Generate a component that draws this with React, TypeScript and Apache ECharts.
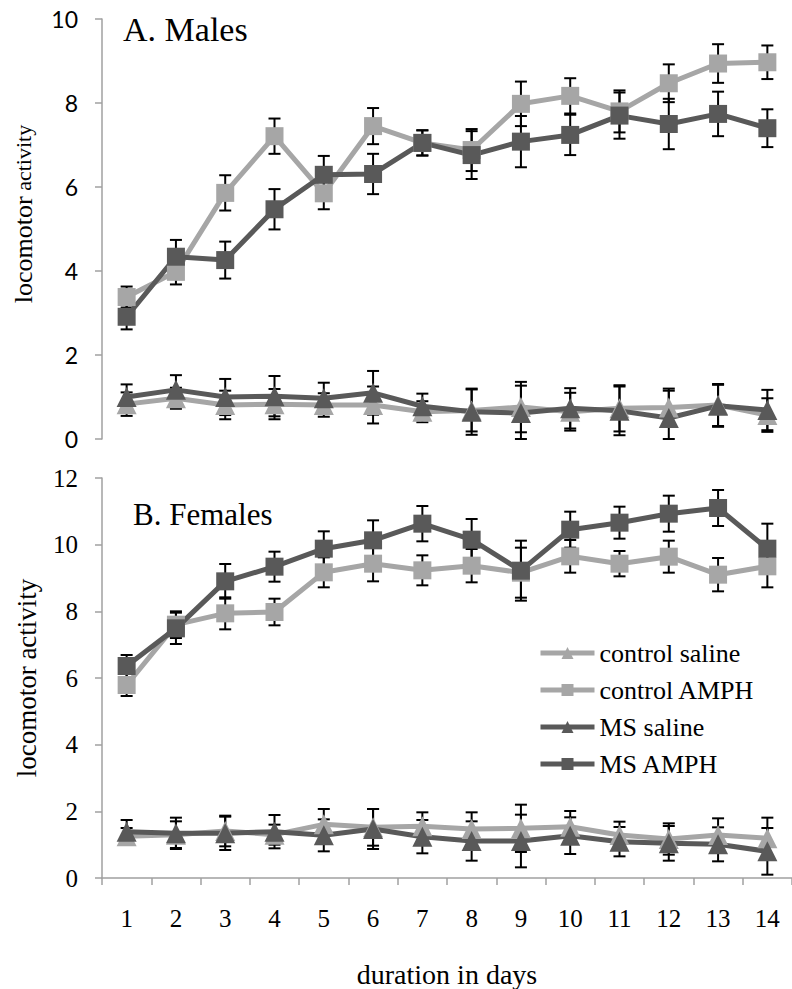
import React, { useEffect, useRef } from "react";
import * as echarts from "echarts";

const days = ["1", "2", "3", "4", "5", "6", "7", "8", "9", "10", "11", "12", "13", "14"];
const seriesNames = ["control saline", "control AMPH", "MS saline", "MS AMPH"];
const maleTicks = [0, 2, 4, 6, 8, 10];
const femaleTicks = [0, 2, 4, 6, 8, 10, 12];

// A. Males
const maleCtrlSaline = [0.83, 0.97, 0.81, 0.83, 0.81, 0.81, 0.65, 0.68, 0.76, 0.65, 0.73, 0.75, 0.81, 0.57];
const maleCtrlSalineErr = [0.28, 0.25, 0.34, 0.36, 0.28, 0.44, 0.25, 0.5, 0.6, 0.45, 0.55, 0.45, 0.5, 0.4];
const maleCtrlAmph = [3.38, 3.98, 5.86, 7.21, 5.85, 7.45, 7.05, 6.88, 7.98, 8.17, 7.8, 8.47, 8.94, 8.97];
const maleCtrlAmphErr = [0.25, 0.3, 0.42, 0.42, 0.38, 0.43, 0.3, 0.5, 0.53, 0.42, 0.5, 0.45, 0.46, 0.4];
const maleMsSaline = [1.0, 1.17, 1.0, 1.02, 0.97, 1.1, 0.78, 0.65, 0.62, 0.73, 0.67, 0.5, 0.79, 0.69];
const maleMsSalineErr = [0.3, 0.35, 0.43, 0.48, 0.37, 0.52, 0.3, 0.55, 0.65, 0.48, 0.58, 0.65, 0.5, 0.48];
const maleMsAmph = [2.91, 4.34, 4.26, 5.47, 6.29, 6.31, 7.05, 6.76, 7.08, 7.24, 7.7, 7.5, 7.74, 7.4];
const maleMsAmphErr = [0.3, 0.4, 0.44, 0.48, 0.45, 0.48, 0.3, 0.57, 0.61, 0.48, 0.55, 0.6, 0.53, 0.45];

// B. Females
const femCtrlSaline = [1.25, 1.3, 1.41, 1.3, 1.61, 1.52, 1.55, 1.47, 1.49, 1.54, 1.29, 1.17, 1.29, 1.19];
const femCtrlSalineErr = [0.25, 0.4, 0.46, 0.3, 0.46, 0.55, 0.42, 0.5, 0.71, 0.47, 0.4, 0.47, 0.5, 0.62];
const femCtrlAmph = [5.79, 7.6, 7.94, 7.98, 9.17, 9.43, 9.23, 9.37, 9.16, 9.65, 9.43, 9.64, 9.1, 9.35];
const femCtrlAmphErr = [0.33, 0.4, 0.48, 0.4, 0.45, 0.53, 0.45, 0.5, 0.75, 0.49, 0.38, 0.48, 0.5, 0.63];
const femMsSaline = [1.39, 1.34, 1.34, 1.39, 1.28, 1.47, 1.24, 1.11, 1.11, 1.27, 1.09, 1.04, 1.01, 0.8];
const femMsSalineErr = [0.35, 0.47, 0.5, 0.5, 0.48, 0.6, 0.5, 0.59, 0.79, 0.55, 0.44, 0.52, 0.51, 0.7];
const femMsAmph = [6.36, 7.49, 8.9, 9.34, 9.88, 10.13, 10.63, 10.15, 9.22, 10.45, 10.66, 10.93, 11.1, 9.88];
const femMsAmphErr = [0.33, 0.47, 0.52, 0.45, 0.52, 0.6, 0.53, 0.62, 0.9, 0.54, 0.48, 0.54, 0.54, 0.75];

const LIGHT = "#A6A6A6";
const DARK = "#595959";
const AXIS = "#A0A0A0";
const SERIF = "'Liberation Serif', 'Times New Roman', serif";
const SANS = "Lato, 'Open Sans', sans-serif";

function lineSeries(name: string, values: number[], color: string, symbol: string, gi: number) {
  return {
    type: "line",
    name,
    xAxisIndex: gi,
    yAxisIndex: gi,
    data: values,
    symbol,
    symbolSize: symbol === "triangle" ? 20 : 18,
    showSymbol: true,
    lineStyle: { color, width: 5 },
    itemStyle: { color },
    z: 3,
  };
}

function errSeries(values: number[], errs: number[], gi: number) {
  return {
    type: "custom",
    xAxisIndex: gi,
    yAxisIndex: gi,
    z: 2,
    silent: true,
    data: values.map((v, i) => [i, v, errs[i]]),
    renderItem: (params: any, api: any) => {
      const x = api.value(0);
      const v = api.value(1);
      const e = api.value(2);
      const hi = api.coord([x, v + e]);
      const lo = api.coord([x, Math.max(0, v - e)]);
      const w = 6;
      const st = { stroke: "#000", lineWidth: 2 };
      return {
        type: "group",
        children: [
          { type: "line", shape: { x1: hi[0], y1: hi[1], x2: lo[0], y2: lo[1] }, style: st },
          { type: "line", shape: { x1: hi[0] - w, y1: hi[1], x2: hi[0] + w, y2: hi[1] }, style: st },
          { type: "line", shape: { x1: lo[0] - w, y1: lo[1], x2: lo[0] + w, y2: lo[1] }, style: st },
        ],
      };
    },
  };
}

export default function App() {
  const ref = useRef<HTMLDivElement>(null);
  useEffect(() => {
    if (!ref.current) return;
    const chart = echarts.init(ref.current, undefined, { renderer: "svg" });
    const option: any = {
      animation: false,
      backgroundColor: "#fff",
      grid: [
        { left: 102, right: -7, top: 19, height: 420 },
        { left: 102, right: -7, top: 478, height: 402 },
      ],
      xAxis: [
        {
          type: "category",
          gridIndex: 0,
          data: days,
          axisLine: { show: false },
          axisTick: { show: false },
          axisLabel: { show: false },
        },
        {
          type: "category",
          gridIndex: 1,
          data: days,
          axisLine: { show: true, lineStyle: { color: AXIS, width: 1.5 } },
          axisTick: { show: true, length: 7, interval: 0, lineStyle: { color: AXIS, width: 1.5 } },
          axisLabel: { show: true, interval: 0, fontFamily: SERIF, fontSize: 25, color: "#000", margin: 28 },
          name: "duration in days",
          nameLocation: "middle",
          nameGap: 82,
          nameTextStyle: { fontFamily: SERIF, fontSize: 28, color: "#000" },
        },
      ],
      yAxis: [
        {
          type: "value",
          gridIndex: 0,
          min: maleTicks[0],
          max: maleTicks[maleTicks.length - 1],
          interval: 2,
          splitLine: { show: false },
          axisLine: { show: true, lineStyle: { color: AXIS, width: 1.5 } },
          axisTick: { show: true, length: 7, lineStyle: { color: AXIS, width: 1.5 } },
          axisLabel: { fontFamily: SANS, fontSize: 23, color: "#000", margin: 24 },
          name: "{a|locomotor}{b| activity}",
          nameLocation: "middle",
          nameGap: 66,
          nameTextStyle: {
            fontFamily: SERIF,
            color: "#000",
            padding: [0, 0, 0, 30],
            rich: {
              a: { fontFamily: SERIF, fontSize: 26, color: "#000" },
              b: { fontFamily: SERIF, fontSize: 22, color: "#000" },
            },
          },
        },
        {
          type: "value",
          gridIndex: 1,
          min: femaleTicks[0],
          max: femaleTicks[femaleTicks.length - 1],
          interval: 2,
          splitLine: { show: false },
          axisLine: { show: true, lineStyle: { color: AXIS, width: 1.5 } },
          axisTick: { show: true, length: 7, lineStyle: { color: AXIS, width: 1.5 } },
          axisLabel: { fontFamily: SERIF, fontSize: 25, color: "#000", margin: 24 },
          name: "locomotor activity",
          nameLocation: "middle",
          nameGap: 62,
          nameTextStyle: { fontFamily: SERIF, fontSize: 27, color: "#000" },
        },
      ],
      legend: {
        orient: "vertical",
        left: 533,
        top: 635,
        itemWidth: 54,
        itemHeight: 15,
        itemGap: 11,
        data: seriesNames,
        lineStyle: { width: 5 },
        textStyle: { fontFamily: SERIF, fontSize: 26, color: "#000", lineHeight: 26 },
      },
      graphic: [
        { type: "text", left: 123, top: 12, style: { text: "A. Males", fontFamily: SERIF, fontSize: 34, fill: "#000" } },
        { type: "text", left: 133, top: 499, style: { text: "B. Females", fontFamily: SERIF, fontSize: 31, fill: "#000" } },
      ],
      series: [
        errSeries(maleCtrlSaline, maleCtrlSalineErr, 0),
        errSeries(maleCtrlAmph, maleCtrlAmphErr, 0),
        errSeries(maleMsSaline, maleMsSalineErr, 0),
        errSeries(maleMsAmph, maleMsAmphErr, 0),
        errSeries(femCtrlSaline, femCtrlSalineErr, 1),
        errSeries(femCtrlAmph, femCtrlAmphErr, 1),
        errSeries(femMsSaline, femMsSalineErr, 1),
        errSeries(femMsAmph, femMsAmphErr, 1),
        lineSeries(seriesNames[0], maleCtrlSaline, LIGHT, "triangle", 0),
        lineSeries(seriesNames[1], maleCtrlAmph, LIGHT, "rect", 0),
        lineSeries(seriesNames[2], maleMsSaline, DARK, "triangle", 0),
        lineSeries(seriesNames[3], maleMsAmph, DARK, "rect", 0),
        lineSeries(seriesNames[0], femCtrlSaline, LIGHT, "triangle", 1),
        lineSeries(seriesNames[1], femCtrlAmph, LIGHT, "rect", 1),
        lineSeries(seriesNames[2], femMsSaline, DARK, "triangle", 1),
        lineSeries(seriesNames[3], femMsAmph, DARK, "rect", 1),
      ],
    };
    chart.setOption(option);
    return () => chart.dispose();
  }, []);
  return (
    <div
      ref={ref}
      style={{ position: "fixed", left: 0, top: 0, width: 792, height: 989, background: "#fff" }}
    />
  );
}
